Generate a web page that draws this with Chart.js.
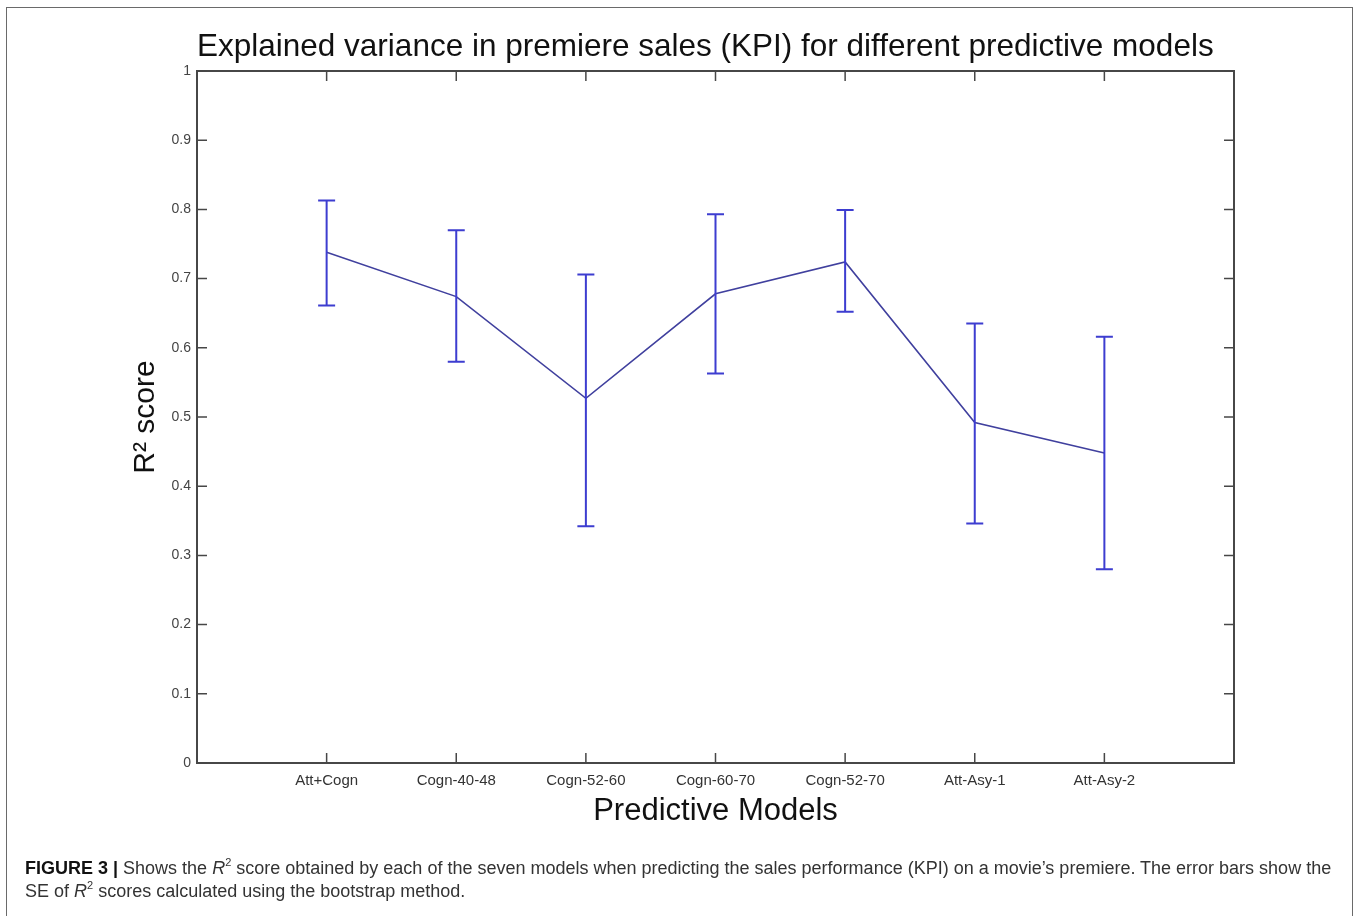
<!DOCTYPE html>
<html>
<head>
<meta charset="utf-8">
<script src="https://cdn.jsdelivr.net/npm/chart.js@4.4.1/dist/chart.umd.min.js"></script>
<style>
  html, body { margin: 0; padding: 0; background: #ffffff; }
  body { width: 1356px; height: 916px; position: relative; overflow: hidden; }
  #frame { position: absolute; left: 6px; top: 7px; width: 1347px; height: 930px;
           border: 1.5px solid #6a6a6a; box-sizing: border-box; }
  #wrap { position: absolute; left: 0; top: 0; width: 1356px; height: 916px; }
  #caption { position: absolute; left: 25px; top: 857px; font-family: "Liberation Sans", Arial, sans-serif;
             font-size: 18px; line-height: 23px; color: #333; white-space: nowrap; }
  #caption b { color: #111; }
  #caption sup { font-size: 11px; line-height: 0; vertical-align: 8px; }
</style>
</head>
<body>
<div id="frame"></div>
<div id="wrap"><canvas id="c" width="1356" height="916"></canvas></div>
<div id="caption"><b>FIGURE 3 |</b> Shows the <i>R</i><sup>2</sup> score obtained by each of the seven models when predicting the sales performance (KPI) on a movie’s premiere. The error bars show the<br>SE of <i>R</i><sup>2</sup> scores calculated using the bootstrap method.</div>
<script>
const categories = ['Att+Cogn', 'Cogn-40-48', 'Cogn-52-60', 'Cogn-60-70', 'Cogn-52-70', 'Att-Asy-1', 'Att-Asy-2'];
const r2Scores   = [0.738, 0.674, 0.527, 0.678, 0.724, 0.492, 0.448];
const errUpper   = [0.813, 0.770, 0.706, 0.793, 0.799, 0.635, 0.616];
const errLower   = [0.661, 0.580, 0.342, 0.563, 0.652, 0.346, 0.280];
const yTickValues = [0, 0.1, 0.2, 0.3, 0.4, 0.5, 0.6, 0.7, 0.8, 0.9, 1];

const FONT = '"Liberation Sans", Arial, Helvetica, sans-serif';
const LINE_COLOR = '#40409e';
const BAR_COLOR = '#3d3dd0';
const AXIS_COLOR = '#474747';

const framePlugin = {
  id: 'matlabFrame',
  afterDatasetsDraw(chart) {
    const ctx = chart.ctx;
    const xs = chart.scales.x, ys = chart.scales.y;
    ctx.save();
    ctx.strokeStyle = BAR_COLOR;
    ctx.lineWidth = 2;
    categories.forEach((c, i) => {
      const px = xs.getPixelForValue(i + 1);
      const top = ys.getPixelForValue(errUpper[i]);
      const bot = ys.getPixelForValue(errLower[i]);
      ctx.beginPath();
      ctx.moveTo(px, top); ctx.lineTo(px, bot);
      ctx.moveTo(px - 8.5, top); ctx.lineTo(px + 8.5, top);
      ctx.moveTo(px - 8.5, bot); ctx.lineTo(px + 8.5, bot);
      ctx.stroke();
    });
    ctx.restore();
  },
  afterDraw(chart) {
    const ctx = chart.ctx;
    const a = chart.chartArea;
    const xs = chart.scales.x, ys = chart.scales.y;
    ctx.save();
    ctx.strokeStyle = AXIS_COLOR;
    ctx.lineWidth = 2;
    ctx.strokeRect(a.left, a.top, a.right - a.left, a.bottom - a.top);
    ctx.lineWidth = 1.5;
    ctx.beginPath();
    yTickValues.forEach(v => {
      const py = ys.getPixelForValue(v);
      ctx.moveTo(a.left, py); ctx.lineTo(a.left + 10, py);
      ctx.moveTo(a.right, py); ctx.lineTo(a.right - 10, py);
    });
    categories.forEach((c, i) => {
      const px = xs.getPixelForValue(i + 1);
      ctx.moveTo(px, a.bottom); ctx.lineTo(px, a.bottom - 10);
      ctx.moveTo(px, a.top); ctx.lineTo(px, a.top + 10);
    });
    ctx.stroke();
    ctx.restore();
  }
};

new Chart(document.getElementById('c'), {
  type: 'line',
  data: {
    datasets: [{
      label: 'R2 score',
      data: r2Scores.map((v, i) => ({ x: i + 1, y: v })),
      borderColor: LINE_COLOR,
      borderWidth: 1.6,
      pointRadius: 0,
      tension: 0,
      fill: false
    }]
  },
  options: {
    responsive: false,
    animation: false,
    devicePixelRatio: 1,
    layout: { padding: { left: 120, right: 122, top: 0, bottom: 76 } },
    plugins: {
      legend: { display: false },
      tooltip: { enabled: false },
      title: {
        display: true,
        text: 'Explained variance in premiere sales (KPI) for different predictive models',
        align: 'start',
        fullSize: false,
        color: '#111',
        font: { family: FONT, size: 31.5, weight: 'normal' },
        padding: { top: 28, bottom: 5.2 }
      }
    },
    scales: {
      x: {
        type: 'linear',
        min: 0, max: 8,
        afterBuildTicks(scale) { scale.ticks = categories.map((c, i) => ({ value: i + 1 })); },
        afterFit(scale) { scale.height = 77; },
        grid: { display: false, drawTicks: false },
        border: { display: false },
        ticks: {
          autoSkip: false, maxRotation: 0, padding: 9,
          color: '#333', font: { family: FONT, size: 15 },
          callback: (v) => categories[v - 1] ?? ''
        },
        title: {
          display: true, text: 'Predictive Models', color: '#111',
          font: { family: FONT, size: 31, weight: 'normal' },
          padding: { top: 0, bottom: 10 }
        }
      },
      y: {
        min: 0, max: 1,
        afterBuildTicks(scale) { scale.ticks = yTickValues.map(v => ({ value: v })); },
        afterFit(scale) { scale.width = 77; },
        grid: { display: false, drawTicks: false },
        border: { display: false },
        ticks: {
          padding: 6, color: '#444', font: { family: FONT, size: 14 },
          callback: (v) => String(Number(v.toFixed(1)))
        },
        title: {
          display: true, text: 'R² score', color: '#111',
          font: { family: FONT, size: 30, weight: 'normal' },
          padding: { top: 8, bottom: 0 }
        }
      }
    }
  },
  plugins: [framePlugin]
});
</script>
</body>
</html>
